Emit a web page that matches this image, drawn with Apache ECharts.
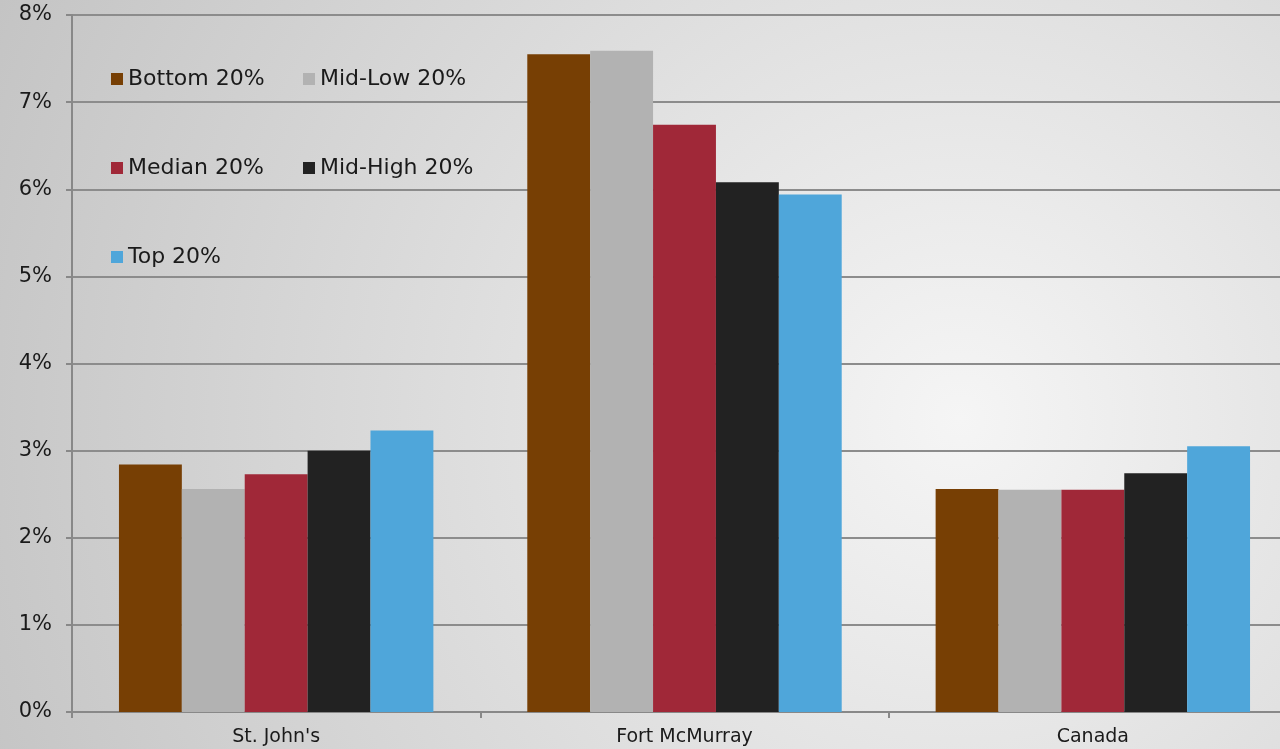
<!DOCTYPE html>
<html><head><meta charset="utf-8">
<script src="https://cdn.jsdelivr.net/npm/echarts@6/dist/echarts.min.js"></script>
<style>html,body{margin:0;padding:0;}#c{width:1280px;height:749px;}</style>
</head><body><div id="c"></div>
<script>
const categories = ["St. John's", "Fort McMurray", "Canada"];
const seriesNames = ["Bottom 20%", "Mid-Low 20%", "Median 20%", "Mid-High 20%", "Top 20%"];
const bottom20 = [2.84, 7.55, 2.56];
const midLow20 = [2.56, 7.59, 2.55];
const median20 = [2.73, 6.74, 2.55];
const midHigh20 = [3.00, 6.08, 2.74];
const top20 = [3.23, 5.94, 3.05];
const yTicks = [0, 1, 2, 3, 4, 5, 6, 7, 8];

const colors = ['#773f04', '#b2b2b2', '#a02838', '#222222', '#4fa6da'];
const values = [bottom20, midLow20, median20, midHigh20, top20];

const chart = echarts.init(document.getElementById('c'));
const font = 'DejaVu Sans, Verdana, sans-serif';
const legendText = {fontSize: 22, color: '#1a1a1a', fontFamily: font, padding: [0, 0, 0, 0]};
chart.setOption({
  animation: false,
  backgroundColor: {
    type: 'radial', x: 0.75, y: 0.56, r: 1.4,
    colorStops: [{offset: 0, color: '#f5f5f5'}, {offset: 1, color: '#c4c4c4'}]
  },
  color: colors,
  legend: [
    {data: [seriesNames[0], seriesNames[2], seriesNames[4]], orient: 'vertical', left: 106, top: 63,
     itemWidth: 12, itemHeight: 12, itemGap: 67, icon: 'rect', textStyle: legendText},
    {data: [seriesNames[1], seriesNames[3]], orient: 'vertical', left: 298, top: 63,
     itemWidth: 12, itemHeight: 12, itemGap: 67, icon: 'rect', textStyle: legendText}
  ],
  grid: {left: 72, top: 15, width: 1225, height: 697, containLabel: false, outerBoundsMode: 'none'},
  xAxis: {
    type: 'category', data: categories,
    axisLine: {lineStyle: {color: '#888888', width: 2}},
    axisTick: {show: true, length: 6, lineStyle: {color: '#888888', width: 2}},
    axisLabel: {fontSize: 19, color: '#1a1a1a', fontFamily: font, margin: 16}
  },
  yAxis: {
    type: 'value', min: yTicks[0], max: yTicks[yTicks.length - 1], interval: 1,
    axisLine: {show: true, lineStyle: {color: '#888888', width: 2}},
    axisTick: {show: true, length: 6, lineStyle: {color: '#888888', width: 2}},
    splitLine: {lineStyle: {color: '#8c8c8c', width: 2}},
    axisLabel: {formatter: '{value}%', fontSize: 21, color: '#1a1a1a', fontFamily: font, margin: 20}
  },
  series: seriesNames.map((n, i) => ({
    name: n, type: 'bar', data: values[i], barGap: '0%', barCategoryGap: '23%',
    itemStyle: {color: colors[i]}
  }))
});
</script></body></html>
